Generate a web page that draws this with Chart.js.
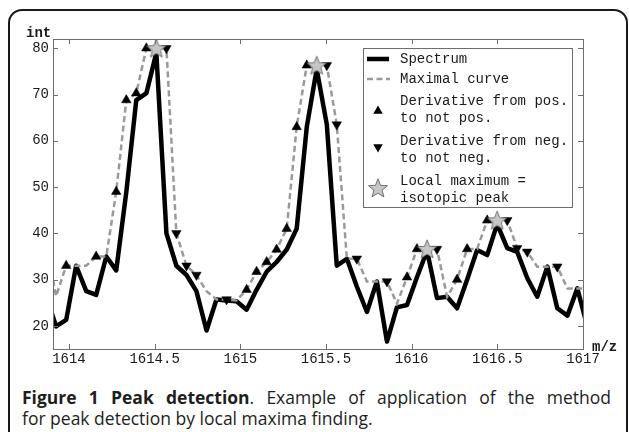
<!DOCTYPE html>
<html><head><meta charset="utf-8">
<script src="https://cdn.jsdelivr.net/npm/chart.js@4.4.1/dist/chart.umd.min.js"></script>
<style>
html,body{margin:0;padding:0;background:#fff;width:629px;height:432px;overflow:hidden;}
#frame{position:absolute;left:8px;top:9px;width:620px;height:440px;border:2px solid #1a1a1a;border-radius:14px;box-sizing:border-box;}
#wrap{position:absolute;left:0;top:0;width:629px;height:380px;}
#cap{position:absolute;left:22px;top:387px;width:589px;font-family:'Open Sans',sans-serif;font-size:17.5px;line-height:21px;color:#1e1e1e;}
#cap .l1{text-align:justify;text-align-last:justify;white-space:nowrap;}
</style></head><body>
<div id="frame"></div>
<div id="wrap"><canvas id="c" width="629" height="380"></canvas></div>
<div id="cap"><div class="l1"><b>Figure 1 Peak detection</b>. Example of application of the method</div><div>for peak detection by local maxima finding.</div></div>
<script>
// ---- data ----
const mz = [1613.808,1613.867,1613.925,1613.984,1614.042,1614.101,1614.159,1614.218,1614.276,1614.335,
            1614.393,1614.452,1614.510,1614.569,1614.627,1614.686,1614.744,1614.803,1614.861,1614.920,
            1614.978,1615.037,1615.095,1615.154,1615.212,1615.271,1615.329,1615.388,1615.446,1615.505,
            1615.563,1615.622,1615.680,1615.739,1615.797,1615.856,1615.914,1615.973,1616.031,1616.090,
            1616.148,1616.207,1616.265,1616.324,1616.382,1616.441,1616.499,1616.558,1616.616,1616.675,
            1616.733,1616.792,1616.850,1616.909,1616.967,1617.026];
const spectrum = [38,26.4,19.9,21.3,33,27.5,26.7,35,32,49,
                  68.8,70.3,79,40,33,31,27.5,19,25.7,25.5,
                  25.3,23.5,27.8,31.7,33.8,36.5,41,63,75.5,63.5,
                  33,34.5,28.5,23,29.6,16.6,24,24.5,30.5,36.2,
                  26,26.3,23.8,30,36.4,35.3,42,36.8,36,30.3,
                  26.3,32.8,23.8,22.2,28.1,19.7];
const maximalCurve = [40,38,26.4,33,33,33,35,35,49,68.8,
                      70.3,80,80,80,40,33,31,27.5,25.7,25.7,
                      25.5,27.8,31.7,33.8,36.5,41,63,76.3,76.3,76.3,
                      63.5,34.5,34.5,29.6,29.6,29.6,24.8,30.5,36.6,36.6,
                      36.6,26.3,30,36.6,36.6,42.8,42.8,42.8,36.8,36,
                      32.8,32.8,32.8,28.1,28.1,28.1];
const upIdx = [3,6,8,9,10,11,21,22,23,24,25,26,27,37,38,42,43,45];
const downIdx = [13,14,15,16,19,29,30,32,35,40,47,48,49,52];
const peakIdx = [12,28,39,46];
const yTicks = [20,30,40,50,60,70,80];
const xTicks = [1614,1614.5,1615,1615.5,1616,1616.5,1617];
const legendLabels = [['Spectrum'],['Maximal curve'],['Derivative from pos.','to not pos.'],['Derivative from neg.','to not neg.'],['Local maximum =','isotopic peak']];
const xLabel = 'm/z', yLabel = 'int';

// ---- styles ----
const MONO = '"Liberation Mono", "Courier New", monospace';
const GRAY_DASH = '#9a9a9a';
function makeStar(){
  const c=document.createElement('canvas'); c.width=22; c.height=22;
  const g=c.getContext('2d');
  g.beginPath();
  for(let k=0;k<10;k++){const r=k%2?4.3:10;const an=-Math.PI/2+k*Math.PI/5;g.lineTo(11+r*Math.cos(an),11.8+r*Math.sin(an));}
  g.closePath(); g.fillStyle='#c6c6c6'; g.fill(); g.strokeStyle='#707070'; g.lineWidth=1; g.stroke();
  return c;
}
const starImg = makeStar();
const pts = (idx, arr) => idx.map(i => ({x: mz[i], y: arr[i]}));

const boxPlugin = {
  id:'boxPlugin',
  afterDatasetsDraw(chart){
    const {ctx, chartArea:a, scales:{x,y}} = chart;
    ctx.save();
    ctx.strokeStyle='#6e6e6e'; ctx.lineWidth=1;
    ctx.strokeRect(a.left+0.5, a.top+0.5, a.right-a.left, a.bottom-a.top);
    ctx.beginPath();
    const tl=5;
    xTicks.forEach(v=>{const p=Math.round(x.getPixelForValue(v))+0.5;
      ctx.moveTo(p,a.bottom); ctx.lineTo(p,a.bottom-tl); ctx.moveTo(p,a.top); ctx.lineTo(p,a.top+tl);});
    yTicks.forEach(v=>{const p=Math.round(y.getPixelForValue(v))+0.5;
      ctx.moveTo(a.left,p); ctx.lineTo(a.left+tl,p); ctx.moveTo(a.right,p); ctx.lineTo(a.right-tl,p);});
    ctx.stroke();
    // axis labels
    ctx.fillStyle='#1a1a1a'; ctx.font='bold 14px '+MONO; ctx.textBaseline='middle'; ctx.textAlign='left';
    ctx.fillText(yLabel, a.left-27, a.top-6);
    ctx.fillText(xLabel, a.right+9, a.bottom-2);
    // legend
    const L={left:a.right-220, top:a.top+9, w:209, h:159};
    ctx.fillStyle='#fff'; ctx.fillRect(L.left,L.top,L.w,L.h);
    ctx.strokeStyle='#6e6e6e'; ctx.strokeRect(L.left+0.5,L.top+0.5,L.w,L.h);
    const rows=[11,31,53,93,133];
    const sx=L.left+4, ex=L.left+26, mx=L.left+15, tx=L.left+37;
    ctx.strokeStyle='#000'; ctx.lineWidth=4.5; ctx.beginPath(); ctx.moveTo(sx,L.top+rows[0]); ctx.lineTo(ex,L.top+rows[0]); ctx.stroke();
    ctx.strokeStyle=GRAY_DASH; ctx.lineWidth=2.5; ctx.setLineDash([6,3.5]); ctx.beginPath(); ctx.moveTo(sx,L.top+rows[1]); ctx.lineTo(ex+1,L.top+rows[1]); ctx.stroke(); ctx.setLineDash([]);
    const tri=(cx,cy,down)=>{const r=5.5;ctx.beginPath();
      for(let k=0;k<3;k++){const an=(down?Math.PI:0)+k*2*Math.PI/3;ctx.lineTo(cx+Math.sin(an)*r,cy-Math.cos(an)*r);}
      ctx.closePath();ctx.fillStyle='#000';ctx.fill();};
    tri(mx,L.top+63,false); tri(mx,L.top+99,true);
    ctx.drawImage(starImg,mx-11,L.top+140-11);
    ctx.fillStyle='#1a1a1a'; ctx.font='14px '+MONO; ctx.textBaseline='middle'; ctx.textAlign='left';
    legendLabels.forEach((lab,i)=>{lab.forEach((t,j)=>ctx.fillText(t,tx,L.top+rows[i]+j*17));});
    ctx.restore();
  }
};

new Chart(document.getElementById('c'),{
  type:'line',
  data:{datasets:[
    {label:'Spectrum',data:pts(mz.map((_,i)=>i),spectrum),borderColor:'#000',borderWidth:4.5,pointRadius:0,tension:0,borderJoinStyle:'round',clip:0,order:5},
    {label:'Maximal curve',data:pts(mz.map((_,i)=>i),maximalCurve),borderColor:GRAY_DASH,borderWidth:2.5,borderDash:[6,3.5],pointRadius:0,tension:0,clip:0,order:4},
    {label:'Derivative from pos. to not pos.',data:pts(upIdx,maximalCurve),showLine:false,pointStyle:'triangle',pointRadius:5.5,backgroundColor:'#000',borderColor:'#000',borderWidth:0.5,order:3},
    {label:'Derivative from neg. to not neg.',data:pts(downIdx,maximalCurve),showLine:false,pointStyle:'triangle',pointRotation:180,pointRadius:5.5,backgroundColor:'#000',borderColor:'#000',borderWidth:0.5,order:2},
    {label:'Local maximum = isotopic peak',data:pts(peakIdx,maximalCurve),showLine:false,pointStyle:starImg,pointRadius:10,order:1}
  ]},
  options:{
    responsive:false,animation:false,
    layout:{padding:{left:0,top:39,right:46,bottom:0}},
    plugins:{legend:{display:false},tooltip:{enabled:false}},
    scales:{
      x:{type:'linear',min:1613.907,max:1617,
        afterBuildTicks:s=>{s.ticks=xTicks.map(v=>({value:v}));},
        afterFit:s=>{s.height=31;},
        grid:{display:false,drawTicks:false,tickLength:0},border:{display:false},
        ticks:{padding:2,maxRotation:0,autoSkip:false,color:'#1a1a1a',font:{family:MONO,size:14},callback:v=>String(v)}},
      y:{type:'linear',min:15,max:82,
        afterBuildTicks:s=>{s.ticks=yTicks.map(v=>({value:v}));},
        afterFit:s=>{s.width=53;},
        grid:{display:false,drawTicks:false,tickLength:0},border:{display:false},
        ticks:{padding:4,color:'#1a1a1a',font:{family:MONO,size:14},callback:v=>String(v)}}
    }
  },
  plugins:[boxPlugin]
});
</script>
</body></html>
